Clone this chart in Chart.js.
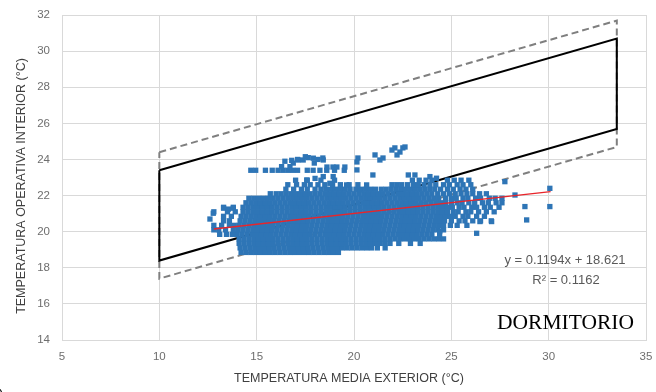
<!DOCTYPE html>
<html>
<head>
<meta charset="utf-8">
<script src="https://cdn.jsdelivr.net/npm/chart.js@4"></script>
<style>
  html,body{margin:0;padding:0;background:#fff;}
  #wrap{width:656px;height:392px;position:relative;}
</style>
</head>
<body>
<div id="wrap"><canvas id="c" width="656" height="392"></canvas></div>
<script>
// ---- axis ticks ----
const xTicks = [5, 10, 15, 20, 25, 30, 35];
const yTicks = [14, 16, 18, 20, 22, 24, 26, 28, 30, 32];

// ---- comfort band (outer corners) ----
const bandX      = [10, 33.5, 33.5, 10, 10];
const band80Y    = [23.4, 30.69, 25.69, 18.4, 23.4];   // solid black
const band90Y    = [24.4, 31.69, 24.69, 17.4, 24.4];   // dashed grey

// ---- trend line end points ----
const trendX = [12.8, 30.1];
const trendY = [20.15, 22.22];

// ---- observed points: dense cloud, row by row (y, list of x) ----
const cloudRows = [
  [18.85, [14.2,14.45,14.7,14.95,15.2,15.45,15.7,15.95,16.2,16.45,16.7,16.95,17.2,17.45,17.7,17.95,18.2,18.45,18.7,18.95,19.2]],
  [19.1,  [14.15,14.4,14.65,14.9,15.15,15.4,15.65,15.9,16.15,16.4,16.65,16.9,17.15,17.4,17.65,17.9,18.15,18.4,18.65,18.9,19.15,19.4,19.65,19.9,20.15,20.4,20.65,20.9,21.2,21.6]],
  [19.35, [14.1,14.35,14.6,14.85,15.1,15.35,15.6,15.85,16.1,16.35,16.6,16.85,17.1,17.35,17.6,17.85,18.1,18.35,18.6,18.85,19.1,19.35,19.6,19.85,20.1,20.35,20.6,20.85,21.1,21.35,21.6,21.85,22.3,22.9,23.4]],
  [19.6,  [14.1,14.35,14.6,14.85,15.1,15.35,15.6,15.85,16.1,16.35,16.6,16.85,17.1,17.35,17.6,17.85,18.1,18.35,18.6,18.85,19.1,19.35,19.6,19.85,20.1,20.35,20.6,20.85,21.1,21.35,21.6,21.85,22.1,22.35,22.6,22.85,23.1,23.35,23.6,23.85,24.1,24.35,24.6]],
  [19.85, [13.1,13.45,13.75,14.0,14.25,14.5,14.75,15.0,15.25,15.5,15.75,16.0,16.25,16.5,16.75,17.0,17.25,17.5,17.75,18.0,18.25,18.5,18.75,19.0,19.25,19.5,19.75,20.0,20.25,20.5,20.75,21.0,21.25,21.5,21.75,22.0,22.25,22.5,22.75,23.0,23.25,23.5,23.75,24.0,24.4]],
  [20.1,  [12.8,13.05,13.4,13.8,14.05,14.3,14.55,14.8,15.05,15.3,15.55,15.8,16.05,16.3,16.55,16.8,17.05,17.3,17.55,17.8,18.05,18.3,18.55,18.8,19.05,19.3,19.55,19.8,20.05,20.3,20.55,20.8,21.05,21.3,21.55,21.8,22.05,22.3,22.55,22.8,23.05,23.3,23.55,23.8,24.05,24.3,24.6]],
  [20.35, [12.8,13.2,13.6,13.85,14.1,14.35,14.6,14.85,15.1,15.35,15.6,15.85,16.1,16.35,16.6,16.85,17.1,17.35,17.6,17.85,18.1,18.35,18.6,18.85,19.1,19.35,19.6,19.85,20.1,20.35,20.6,20.85,21.1,21.35,21.6,21.85,22.1,22.35,22.6,22.85,23.1,23.35,23.6,23.85,24.1,24.35,24.6,24.95,25.3,25.8]],
  [20.6,  [13.3,13.6,14.15,14.4,14.65,14.9,15.15,15.4,15.65,15.9,16.15,16.4,16.65,16.9,17.15,17.4,17.65,17.9,18.15,18.4,18.65,18.9,19.15,19.4,19.65,19.9,20.15,20.4,20.65,20.9,21.15,21.4,21.65,21.9,22.15,22.4,22.65,22.9,23.15,23.4,23.65,23.9,24.15,24.4,24.65,25.0,25.4,25.7,26.1,26.5,27.05]],
  [20.85, [13.3,13.7,14.2,14.45,14.7,14.95,15.2,15.45,15.7,15.95,16.2,16.45,16.7,16.95,17.2,17.45,17.7,17.95,18.2,18.45,18.7,18.95,19.2,19.45,19.7,19.95,20.2,20.45,20.7,20.95,21.2,21.45,21.7,21.95,22.2,22.45,22.7,22.95,23.2,23.45,23.7,23.95,24.2,24.45,24.7,24.95,25.2,25.6,25.85,26.3,26.7]],
  [21.1,  [12.8,13.5,13.9,14.3,14.55,14.8,15.05,15.3,15.55,15.8,16.05,16.3,16.55,16.8,17.05,17.3,17.55,17.8,18.05,18.3,18.55,18.8,19.05,19.3,19.55,19.8,20.05,20.3,20.55,20.8,21.05,21.3,21.55,21.8,22.05,22.3,22.55,22.8,23.05,23.3,23.55,23.8,24.05,24.3,24.55,24.8,25.1,25.35,25.75,26.0,26.4,26.8,27.2]],
  [21.35, [13.3,13.8,14.3,14.55,14.8,15.05,15.3,15.55,15.8,16.05,16.3,16.55,16.8,17.05,17.3,17.55,17.8,18.05,18.3,18.55,18.8,19.05,19.3,19.55,19.8,20.05,20.3,20.55,20.8,21.05,21.3,21.55,21.8,22.05,22.3,22.55,22.8,23.05,23.3,23.55,23.8,24.05,24.3,24.55,24.8,25.05,25.4,25.65,26.05,26.3,26.7,27.0,27.45]],
  [21.6,  [14.45,14.7,14.95,15.2,15.45,15.7,15.95,16.2,16.45,16.7,16.95,17.2,17.45,17.7,17.95,18.2,18.45,18.7,18.95,19.2,19.45,19.7,19.95,20.2,20.45,20.7,20.95,21.2,21.45,21.7,21.95,22.2,22.45,22.7,22.95,23.2,23.45,23.7,23.95,24.2,24.45,24.7,25.0,25.3,25.55,25.9,26.2,26.6,26.9,27.3,27.6]],
  [21.85, [14.6,14.85,15.1,15.35,15.6,15.85,16.1,16.35,16.6,16.85,17.1,17.35,17.6,17.85,18.1,18.35,18.6,18.85,19.1,19.35,19.6,19.85,20.1,20.35,20.6,20.85,21.1,21.35,21.6,21.85,22.1,22.35,22.6,22.85,23.1,23.35,23.6,23.85,24.1,24.35,24.7,25.0,25.25,25.6,25.85,26.25,26.5,26.95,27.25]],
  [22.1,  [15.7,16.0,16.25,16.5,16.75,17.0,17.25,17.5,17.75,18.0,18.25,18.5,18.75,19.0,19.25,19.5,19.75,20.0,20.25,20.5,20.75,21.0,21.25,21.5,21.75,22.0,22.25,22.5,22.75,23.0,23.25,23.5,23.75,24.0,24.3,24.6,24.9,25.2,25.5,25.8,26.1,26.45,26.8]],
  [22.35, [16.5,16.9,17.3,17.6,18.0,18.3,18.55,18.8,19.05,19.3,19.55,19.8,20.1,20.35,20.6,20.85,21.1,21.4,21.65,21.9,22.15,22.4,22.65,22.9,23.15,23.4,23.65,23.9,24.15,24.45,24.8,25.1,25.45,25.75,26.1]],
  [22.6,  [16.6,17.05,17.45,17.75,18.15,18.5,18.9,19.3,19.75,20.2,21.95,22.2,22.45,22.75,23.05,23.3,23.6,23.9,24.2,24.6,24.9,25.3,25.6,26.0]],
  [22.85, [17.0,17.6,18.3,19.0,23.0,23.35,23.7,24.0,24.8,25.15,25.5,25.9]],
  [23.4,  [14.7,14.95,15.45,15.8,16.1,16.35,16.6,16.85,17.1,17.6,17.9,18.25,18.6,19.0,19.5]]
];

// ---- observed points: scattered outliers (x, y) ----
const outX = [16.28,16.71,16.88,17.14,17.39,17.65,17.91,17.96,18.42,16.45,16.8,17.1,17.5,18.15,
              17.57,18.0,
              18.4,18.61,18.92,19.12,19.53,20.15,20.2,20.15,20.97,21.08,21.33,21.49,21.95,22.1,22.36,22.51,22.62,22.21,18.93,18.42,22.79,23.13,23.9,24.24,19.62,20.3,20.65,18.76,
              12.77,13.3,13.55,13.8,12.6,
              27.75,28.27,28.78,28.87,30.06,30.06,26.3,24.41,27.07,26.47,27.6];
const outY = [23.6,23.6,23.8,23.97,23.97,24.1,24.07,23.8,23.97,23.9,23.95,24.0,24.15,24.0,
              22.86,22.95,
              24.08,23.58,23.58,23.58,23.58,23.86,24.08,23.42,23.14,24.25,23.97,24.08,24.52,24.64,24.41,24.64,24.69,24.25,23.05,23.05,23.14,23.14,23.05,22.96,22.59,22.31,22.59,22.68,
              21.02,21.3,21.25,21.3,20.7,
              22.77,22.03,21.39,20.65,22.4,21.39,19.91,20.04,20.56,20.56,21.85];

// ---- texts ----
const xTitle = 'TEMPERATURA MEDIA EXTERIOR (°C)';
const yTitle = 'TEMPERATURA OPERATIVA INTERIOR (°C)';
const eqLines = ['y = 0.1194x + 18.621', 'R² = 0.1162'];
const roomLabel = 'DORMITORIO';

// ---- build datasets ----
const obsPts = [];
cloudRows.forEach(([y, xs]) => xs.forEach(x => obsPts.push({x, y})));
outX.forEach((x, i) => obsPts.push({x, y: outY[i]}));
const toPts = (xs, ys) => xs.map((x, i) => ({x, y: ys[i]}));

const textPlugin = {
  id: 'texts',
  afterDraw(chart) {
    const ctx = chart.ctx;
    ctx.save();
    ctx.fillStyle = '#404040';
    ctx.font = '12.5px "Liberation Sans", Arial, sans-serif';
    ctx.textAlign = 'center';
    ctx.textBaseline = 'middle';
    ctx.fillText(xTitle, 349, 379);
    ctx.save();
    ctx.translate(22, 186);
    ctx.rotate(-Math.PI / 2);
    ctx.fillText(yTitle, 0, 0);
    ctx.restore();
    ctx.fillStyle = '#595959';
    ctx.font = '13px "Liberation Sans", Arial, sans-serif';
    ctx.fillText(eqLines[0], 565, 260);
    ctx.fillText(eqLines[1], 566, 280);
    ctx.fillStyle = '#000000';
    ctx.font = '21.5px "Liberation Serif", "Times New Roman", serif';
    ctx.textAlign = 'right';
    ctx.fillText(roomLabel, 634, 323);
    ctx.textAlign = 'left';
    ctx.font = '14px "Liberation Sans", Arial, sans-serif';
    ctx.fillText(')', -1, 396);
    ctx.restore();
  }
};

const tickFont = {family: '"Liberation Sans", Arial, sans-serif', size: 11.5};

new Chart(document.getElementById('c'), {
  type: 'scatter',
  data: {
    datasets: [
      {label: 'trend', data: toPts(trendX, trendY), showLine: true, borderColor: '#E8252B', borderWidth: 1.4, pointRadius: 0, fill: false},
      {label: 'obs', data: obsPts, pointStyle: 'rect', pointRadius: 3.75, backgroundColor: '#2E75B6', borderWidth: 0},
      {label: 'band80', data: toPts(bandX, band80Y), showLine: true, borderColor: '#000000', borderWidth: 2, pointRadius: 0, fill: false},
      {label: 'band90', data: toPts(bandX, band90Y), showLine: true, borderColor: '#7F7F7F', borderWidth: 2, borderDash: [7, 4], pointRadius: 0, fill: false}
    ]
  },
  options: {
    responsive: false,
    animation: false,
    devicePixelRatio: 1,
    layout: {padding: {left: 0, right: 0, top: 0, bottom: 0}},
    plugins: {legend: {display: false}, tooltip: {enabled: false}},
    scales: {
      x: {
        type: 'linear', min: 5, max: 35,
        afterBuildTicks(s) { s.ticks = xTicks.map(v => ({value: v})); },
        ticks: {color: '#6E6E6E', font: tickFont, padding: 10},
        grid: {color: '#D9D9D9', drawTicks: false, lineWidth: 1},
        border: {color: '#D9D9D9'},
        afterFit(s) { s.height = 52; s.paddingLeft = 0; s.paddingRight = 10; }
      },
      y: {
        type: 'linear', min: 14, max: 32,
        afterBuildTicks(s) { s.ticks = yTicks.map(v => ({value: v})); },
        ticks: {color: '#6E6E6E', font: tickFont, padding: 12},
        grid: {color: '#D9D9D9', drawTicks: false, lineWidth: 1},
        border: {color: '#D9D9D9'},
        afterFit(s) { s.width = 62; s.paddingTop = 15; s.paddingBottom = 0; }
      }
    }
  },
  plugins: [textPlugin]
});
</script>
</body>
</html>
